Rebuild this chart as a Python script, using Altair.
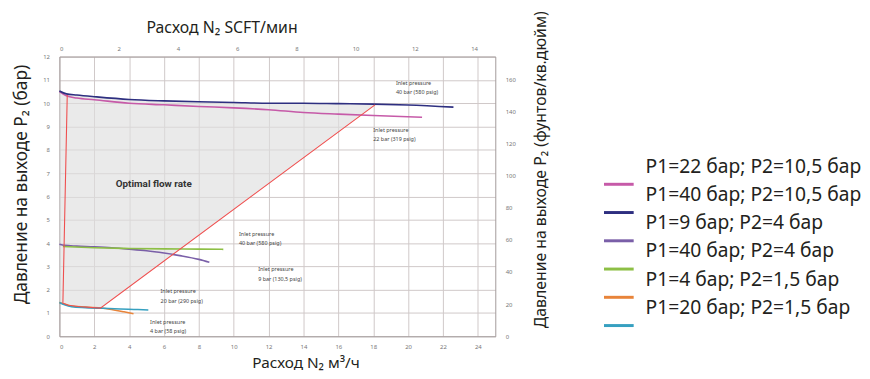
import altair as alt
import pandas as pd

# ---------------- data (x: flow N2 m3/h, y: outlet pressure bar) ----------------
series_names = [
    "P1=22 бар; P2=10,5 бар",
    "P1=40 бар; P2=10,5 бар",
    "P1=9 бар; P2=4 бар",
    "P1=40 бар; P2=4 бар",
    "P1=4 бар; P2=1,5 бар",
    "P1=20 бар; P2=1,5 бар",
]
series_colors = ["#c65aa8", "#2e2f80", "#7a5fa8", "#8dbf45", "#e8843a", "#36a0c0"]

p22_105_x = [0, 0.4, 1, 2, 4, 6, 8, 10, 12, 14, 16, 18, 20.8]
p22_105_y = [10.5, 10.32, 10.22, 10.15, 10.0, 9.93, 9.86, 9.8, 9.72, 9.6, 9.53, 9.47, 9.4]

p40_105_x = [0, 0.4, 1, 2, 4, 6, 8, 10, 12, 14, 16, 18, 20, 22.6]
p40_105_y = [10.52, 10.4, 10.35, 10.28, 10.16, 10.1, 10.06, 10.03, 10.0, 10.0, 9.98, 9.96, 9.92, 9.83]

p9_4_x = [0, 0.3, 1, 2, 3, 4, 5, 6, 7, 8, 8.6]
p9_4_y = [3.95, 3.9, 3.87, 3.84, 3.8, 3.74, 3.67, 3.57, 3.45, 3.3, 3.18]

p40_4_x = [0.2, 2, 4, 6, 8, 9.4]
p40_4_y = [3.85, 3.8, 3.77, 3.75, 3.74, 3.73]

p4_15_x = [0, 0.3, 0.7, 1.5, 2.5, 3.2, 3.7, 4.25]
p4_15_y = [1.45, 1.38, 1.3, 1.25, 1.2, 1.12, 1.05, 0.97]

p20_15_x = [0, 0.3, 0.7, 1.5, 2.5, 3.5, 4.5, 5.1]
p20_15_y = [1.45, 1.35, 1.27, 1.23, 1.2, 1.17, 1.15, 1.13]

series_x = [p22_105_x, p40_105_x, p9_4_x, p40_4_x, p4_15_x, p20_15_x]
series_y = [p22_105_y, p40_105_y, p9_4_y, p40_4_y, p4_15_y, p20_15_y]

# boundary of the optimal flow region (red line)
bound_x = [0.45, 0.2, 0.5, 1.2, 2.35, 18.1]
bound_y = [10.35, 1.42, 1.33, 1.27, 1.21, 9.93]

# shaded optimal region
shade_x = [0, 0.45, 1, 2, 2.35, 4, 6, 8, 10, 12, 14, 16, 18.1]
shade_top = [10.5, 10.38, 10.35, 10.28, 10.26, 10.16, 10.1, 10.06, 10.03, 10.0, 10.0, 9.98, 9.95]
shade_bottom = [1.45, 1.35, 1.28, 1.22, 1.21, 2.12, 3.23, 4.34, 5.45, 6.55, 7.66, 8.77, 9.93]

# annotations
note_text = [
    "Inlet pressure\n40 bar (580 psig)",
    "Inlet pressure\n22 bar (319 psig)",
    "Inlet pressure\n40 bar (580 psig)",
    "Inlet pressure\n9 bar (130,5 psig)",
    "Inlet pressure\n20 bar (290 psig)",
    "Inlet pressure\n4 bar (58 psig)",
]
note_x = [19.3, 18.0, 10.3, 11.4, 5.8, 5.2]
note_y = [10.96, 8.93, 4.47, 2.95, 2.01, 0.70]

region_label = ["Optimal flow rate"]
region_x = [5.41]
region_y = [6.53]

x_ticks = list(range(0, 25, 2))
y_ticks = list(range(0, 13))
top_ticks = list(range(0, 15, 2))
right_ticks = list(range(0, 161, 20))

# ---------------- tables ----------------
rows = []
for name, xs, ys in zip(series_names, series_x, series_y):
    for i, (a, b) in enumerate(zip(xs, ys)):
        rows.append({"name": name, "x": a, "y": b, "i": i})
series_df = pd.DataFrame(rows)
bound_df = pd.DataFrame({"x": bound_x, "y": bound_y, "i": list(range(len(bound_x)))})
shade_df = pd.DataFrame({"x": shade_x, "y": shade_top, "y2": shade_bottom})
note_df = pd.DataFrame({"t": note_text, "x": note_x, "y": note_y})
region_df = pd.DataFrame({"t": region_label, "x": region_x, "y": region_y})

FONT = "Noto Sans"
TXT = "#231f20"
W, H = 441, 283

x_scale = alt.Scale(domain=[0, 25], nice=False, zero=False)
y_scale = alt.Scale(domain=[0, 12], nice=False)

common_axis = dict(
    labelFontSize=6, labelColor="#777777", labelFont=FONT, ticks=False,
    domainColor="#a39a9a", domainWidth=1, gridColor="#cfc8c8", gridWidth=1,
    titleFont=FONT, titleFontWeight="normal", titleColor=TXT,
)
x_axis = alt.Axis(values=x_ticks, grid=True, title="Расход N₂ м³/ч", labelPadding=7,
                  titlePadding=7, titleX=249, titleFontSize=15.5, **common_axis)
y_axis = alt.Axis(values=y_ticks, grid=True, title="Давление на выходе  P₂ (бар)", labelPadding=10,
                  titlePadding=12, titleY=129, titleFontSize=17.5, **common_axis)

X = alt.X("x:Q", scale=x_scale, axis=x_axis)
Y = alt.Y("y:Q", scale=y_scale, axis=y_axis)

shade = alt.Chart(shade_df).mark_area(color="#dedede", opacity=0.65).encode(
    x=X, y=Y, y2="y2:Q")

lines = alt.Chart(series_df).mark_line(strokeWidth=1.6, interpolate="monotone").encode(
    x=X, y=Y,
    color=alt.Color("name:N", scale=alt.Scale(domain=series_names, range=series_colors), legend=None),
    order="i:Q",
)

boundary = alt.Chart(bound_df).mark_line(color="#ef4f4f", strokeWidth=1.1).encode(
    x=X, y=Y, order="i:Q")

notes = alt.Chart(note_df).mark_text(
    align="left", baseline="top", fontSize=5.5, lineHeight=9.5, lineBreak="\n",
    font=FONT, color="#444444").encode(x=X, y=Y, text="t:N")

region = alt.Chart(region_df).mark_text(
    align="center", baseline="middle", fontSize=10, fontWeight="bold",
    font="Roboto", color="#333333").encode(x=X, y=Y, text="t:N")

inner = alt.layer(shade, lines, boundary, notes, region)

top_layer = alt.Chart(pd.DataFrame({"scfm": [0, 14]})).mark_point(opacity=0).encode(
    x=alt.X("scfm:Q", scale=alt.Scale(domain=[0, 25 * 0.5886], nice=False),
            axis=alt.Axis(orient="top", values=top_ticks, grid=False, title="Расход N₂ SCFT/мин",
                          labelPadding=5, titlePadding=10, titleX=164, titleFontSize=16,
                          **common_axis)))

right_layer = alt.Chart(pd.DataFrame({"psig": [0, 160]})).mark_point(opacity=0).encode(
    y=alt.Y("psig:Q", scale=alt.Scale(domain=[0, 12 * 14.5038], nice=False),
            axis=alt.Axis(orient="right", values=right_ticks, grid=False,
                          title="Давление на выходе P₂ (фунтов/кв.дюйм)",
                          titleAngle=270, titleBaseline="top", titleFontSize=16,
                          labelPadding=10, titlePadding=18, titleY=114, **common_axis)))

main = alt.layer(inner, top_layer, right_layer).resolve_scale(
    x="independent", y="independent").properties(width=W, height=H)

# ---------------- custom legend ----------------
legend_df = pd.DataFrame({"name": series_names, "color": series_colors,
                          "row": list(range(len(series_names)))})
leg_y_scale = alt.Scale(domain=[-3.9, 6.0], reverse=True, nice=False, zero=False)
leg_lines = alt.Chart(legend_df).transform_calculate(ly="datum.row + 0.62").mark_rule(
    strokeWidth=3).encode(
    x=alt.value(0), x2=alt.value(30),
    y=alt.Y("ly:Q", scale=leg_y_scale, axis=None),
    color=alt.Color("color:N", scale=None),
)
leg_text = alt.Chart(legend_df).mark_text(
    align="left", baseline="middle", fontSize=19.5, font=FONT, color=TXT).encode(
    x=alt.value(42),
    y=alt.Y("row:Q", scale=leg_y_scale, axis=None),
    text="name:N",
)
legend = alt.layer(leg_lines, leg_text).properties(width=30, height=H)

chart = alt.hconcat(main, legend, spacing=53).configure_view(stroke=None).properties(
    padding={"left": 5, "top": 0, "right": 0, "bottom": 0})

chart.save("out.html", embed_options={"renderer": "svg", "actions": False})
